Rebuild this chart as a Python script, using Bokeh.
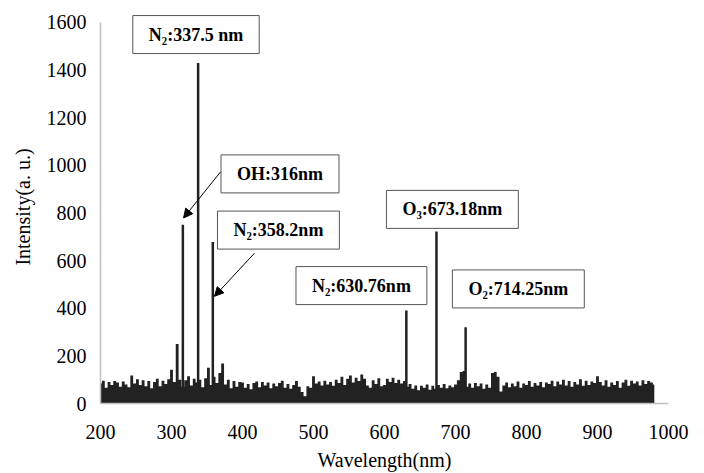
from bokeh.plotting import figure
from bokeh.models import Range1d, FixedTicker, Label, Arrow, NormalHead
from bokeh.embed import file_html
from bokeh.resources import INLINE

# ---- data ----
noise_start = 200
noise_step = 4
noise = [84, 96, 66, 90, 78, 94, 88, 70, 92, 80, 68,
         118, 84, 102, 78, 98, 72, 94, 64, 90, 104, 72, 96, 82, 102, 142,
         90, 250, 100, 70, 98, 114, 76, 104, 88, 100,
         68, 106, 150, 78, 112, 86, 128, 168, 80, 100, 64, 94, 70, 90,
         88, 66, 82, 60, 86, 92, 68, 90, 76, 88, 64, 84, 72, 86, 96, 66, 82, 62, 78, 94, 70, 48, 30, 72, 66,
         114, 84, 92, 76, 96, 80, 90, 74, 100, 86, 112, 78, 104, 118, 88, 108, 94, 122, 104, 76, 66, 98, 82, 106, 72,
         78, 104, 90, 108, 86, 100, 84, 94, 70, 82, 62, 76, 56, 74, 66, 80, 58, 74, 62, 78, 66, 82, 64, 76, 68,
         80, 98, 132, 136, 70, 84, 66, 86, 72, 84, 62, 80, 66, 128, 132, 112, 50, 76, 88, 68, 84, 72, 92, 66, 84,
         78, 94, 70, 86, 76, 90, 68, 88, 82, 96, 72, 92, 80, 100, 76, 94, 70, 90, 80, 102, 74, 96, 78, 92, 86,
         114, 90, 76, 98, 70, 88, 78, 94, 66, 88, 100, 74, 96, 84, 92, 76, 98, 82, 94, 88, 80]
noise_wl = [noise_start + noise_step * i for i in range(len(noise))]

peak_wl = [316.0, 337.5, 358.2, 630.76, 673.18, 714.25]
peak_int = [750, 1430, 678, 390, 722, 320]

x_ticks = [200, 300, 400, 500, 600, 700, 800, 900, 1000]
y_ticks = [0, 200, 400, 600, 800, 1000, 1200, 1400, 1600]

labels = ["N\u2082:337.5 nm", "OH:316nm", "N\u2082:358.2nm", "N\u2082:630.76nm",
          "O\u2083:673.18nm", "O\u2082:714.25nm"]
label_x = [334.5, 452.8, 450.6, 567.5, 695.6, 788.5]
label_y = [1549, 964, 728, 495, 815, 481]

arrow_start = [(369, 972), (416.8, 631)]
arrow_end = [(317, 779), (360.5, 450)]

SERIF = "'Liberation Serif', 'Times New Roman', serif"
INK = "#222222"

p = figure(width=700, height=473, output_backend="svg", toolbar_location=None,
           x_range=Range1d(200, 1000), y_range=Range1d(0, 1650),
           min_border_left=100, min_border_right=32, min_border_top=10, min_border_bottom=70)
p.outline_line_color = None
p.xgrid.grid_line_color = None
p.ygrid.grid_line_color = None

p.varea_step(x=noise_wl, y1=[0] * len(noise), y2=noise, step_mode="center",
             fill_color=INK)
p.segment(x0=peak_wl, y0=[0] * len(peak_wl), x1=peak_wl, y1=peak_int,
          line_width=2.5, line_color=INK)

for ax, ticks in ((p.xaxis[0], x_ticks), (p.yaxis[0], y_ticks)):
    ax.ticker = FixedTicker(ticks=ticks)
    ax.axis_line_color = "#bfbfbf"
    ax.axis_line_width = 1.5
    ax.major_tick_line_color = None
    ax.minor_tick_line_color = None
    ax.major_tick_out = 0
    ax.major_tick_in = 0
    ax.major_label_text_font = SERIF
    ax.major_label_text_font_size = "20px"
    ax.major_label_text_color = "black"
    ax.axis_label_text_font = SERIF
    ax.axis_label_text_font_size = "20px"
    ax.axis_label_text_font_style = "normal"
    ax.axis_label_text_color = "black"

p.yaxis.bounds = (0, 1600)
p.xaxis.axis_label = "Wavelength(nm)"
p.yaxis.axis_label = "Intensity(a. u.)"
p.xaxis.major_label_standoff = 21
p.yaxis.major_label_standoff = 14
p.xaxis.axis_label_standoff = 7
p.yaxis.axis_label_standoff = 10

for t, lx, ly in zip(labels, label_x, label_y):
    p.add_layout(Label(x=lx, y=ly, text=t, text_align="center", text_baseline="middle",
                       text_font=SERIF, text_font_style="bold", text_font_size="18px",
                       text_color="black", background_fill_color="white",
                       border_line_color="#555555", border_line_width=1,
                       padding=(16, 9)))

for (sx, sy), (ex, ey) in zip(arrow_start, arrow_end):
    p.add_layout(Arrow(x_start=sx, y_start=sy, x_end=ex, y_end=ey,
                       line_color="black", line_width=1,
                       end=NormalHead(size=9, fill_color="black", line_color="black")))

open("out.html", "w").write(file_html(p, INLINE))
